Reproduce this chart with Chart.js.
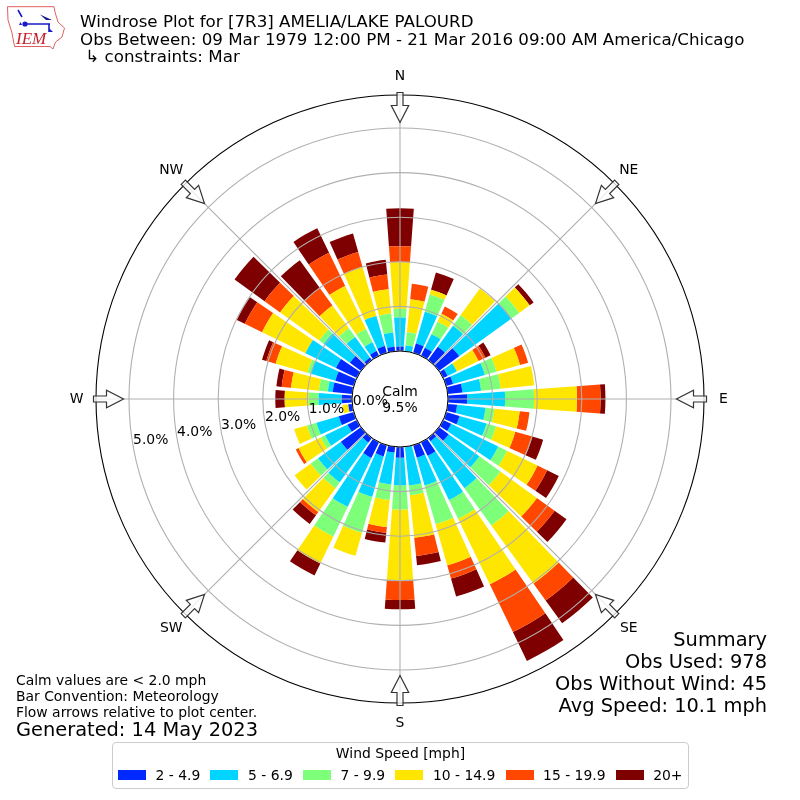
<!DOCTYPE html>
<html>
<head>
<meta charset="utf-8">
<title>Windrose Plot</title>
<script src="https://cdn.jsdelivr.net/npm/chart.js@4/dist/chart.umd.js"></script>
<style>
    html, body { margin: 0; padding: 0; background: #fff; }
    body { width: 800px; height: 800px; position: relative; overflow: hidden; font-family: "DejaVu Sans", sans-serif; color: #000; }
    canvas { position: absolute; left: 0; top: 0; }
    .txt { position: absolute; white-space: pre; line-height: 1; }
    #legendBox { position: absolute; left: 112px; top: 742px; width: 575px; height: 45px; border: 1px solid #ccc; border-radius: 4px; background: #fff; box-sizing: content-box; }
    #legendTitle { position: absolute; left: 0; right: 0; top: 3px; text-align: center; font-size: 13.9px; line-height: 15px; }
    #legendRow { position: absolute; left: 5px; top: 24px; display: flex; align-items: center; font-size: 13.9px; line-height: 16px; white-space: pre; }
    #legendRow i { display: inline-block; width: 28px; height: 10px; margin-right: 9.5px; }
    #legendRow span { margin-right: 10.2px; }
</style>
</head>
<body>
<canvas id="roseChart" width="800" height="800"></canvas>

<svg style="position:absolute;left:0;top:0" width="70" height="54" viewBox="0 0 70 54">
    <path d="M7.5 6.7 L54 6.7 L55 12 L58 22 L64.5 28 L62 37 L55.5 42 L53 49 L50 46.5 L14.5 46.5 L12 33 L8 20 Z" fill="none" stroke="#e06060" stroke-width="1"/>
    <path d="M25 24 L50 24 M49 24 L49 32 M18 10 L22 17" stroke="#1a1ac8" stroke-width="1.6" fill="none"/>
    <path d="M40 14.5 L52 20 L46 20 Z" fill="#1a1a90"/>
    <circle cx="25" cy="24" r="2.6" fill="#1a1ac8"/>
    <path d="M19 25 L22 25 L20.5 22 Z M49 28 L53 32 L49 32 Z" fill="#1a1ac8"/>
    <text x="16" y="44" font-family="Liberation Serif" font-style="italic" font-size="17" fill="#c8202a">IEM</text>
</svg>

<div class="txt" style="left:80px;top:12.5px;font-size:16.7px">Windrose Plot for [7R3] AMELIA/LAKE PALOURD</div>
<div class="txt" style="left:80px;top:30.5px;font-size:16.7px">Obs Between: 09 Mar 1979 12:00 PM - 21 Mar 2016 09:00 AM America/Chicago</div>
<div class="txt" style="left:80px;top:48px;font-size:16.7px"> ↳ constraints: Mar</div>

<div class="txt" style="right:33px;top:629.5px;font-size:19.4px">Summary</div>
<div class="txt" style="right:33px;top:652px;font-size:19.4px">Obs Used: 978</div>
<div class="txt" style="right:33px;top:674px;font-size:19.4px">Obs Without Wind: 45</div>
<div class="txt" style="right:33px;top:695.5px;font-size:19.4px">Avg Speed: 10.1 mph</div>

<div class="txt" style="left:16px;top:674px;font-size:13.9px">Calm values are &lt; 2.0 mph</div>
<div class="txt" style="left:16px;top:690px;font-size:13.9px">Bar Convention: Meteorology</div>
<div class="txt" style="left:16px;top:706px;font-size:13.9px">Flow arrows relative to plot center.</div>
<div class="txt" style="left:16px;top:720px;font-size:19.4px">Generated: 14 May 2023</div>

<div id="legendBox">
    <div id="legendTitle">Wind Speed [mph]</div>
    <div id="legendRow"></div>
</div>

<script>
// Direction of each bar, degrees clockwise from north
const directions = [0, 10, 20, 30, 40, 50, 60, 70, 80, 90, 100, 110, 120, 130, 140, 150, 160, 170,
    180, 190, 200, 210, 220, 230, 240, 250, 260, 270, 280, 290, 300, 310, 320, 330, 340, 350];

// Percent of observations per direction, one list per speed bin
const speed2to5 = [.10, 0, .22, .20, .37, .56, .11, .16, .33, .43, .21, .31, .20, .27, .09, .34, .29, 0,
    .24, .13, .26, .39, .13, .56, .23, .35, .09, .23, .44, .43, .52, .31, .07, .12, .16, .10];
const speed5to7 = [.65, .13, .74, .34, .58, 1.45, .23, .74, .42, .85, .64, .63, 1.17, .85, 1.30, 1.10, .65, .87,
    .62, .72, .94, 1.22, 1.10, .63, .56, .52, 0, .52, .11, .57, .76, .72, .57, .22, .70, .32];
const speed7to10 = [.20, .30, .40, .31, .29, .21, 0, .27, .44, .65, .20, .22, .22, .58, 1.03, .47, .90, .22,
    .54, .35, .84, .74, .16, .20, .11, .22, 0, .22, .20, .08, 0, .13, .24, .33, 0, .43];
const speed10to15 = [1.04, .74, .11, .20, .74, .29, .54, .55, .76, .96, .57, .45, .76, 1.01, 1.61, 1.63, .96, .96,
    1.60, .61, .54, .67, .66, .45, .55, .30, .13, .54, .63, .74, 1.08, 1.08, .63, 1.07, 1.14, .55];
const speed15to20 = [.36, .35, 0, .18, 0, 0, .17, .19, 0, .53, .22, .40, .24, .49, .47, 1.19, .31, .41,
    .43, .13, 0, 0, .09, 0, .07, 0, 0, 0, .21, .22, .43, .43, .49, .83, .35, .33];
const speed20up = [.85, 0, .40, 0, 0, .11, .13, 0, 0, .11, 0, .25, .29, .33, .63, .72, .42, .21,
    .21, .22, 0, .30, .24, 0, 0, 0, 0, .21, .12, .10, .20, .83, .76, .61, .43, .33];

const speedLabels = ['2 - 4.9', '5 - 6.9', '7 - 9.9', '10 - 14.9', '15 - 19.9', '20+'];
const speedColors = ['#0029ff', '#00d4ff', '#7dff7a', '#ffe600', '#ff4700', '#7f0000'];
const compassLabels = ['N', 'NE', 'E', 'SE', 'S', 'SW', 'W', 'NW'];
const tickValues = [0, 1, 2, 3, 4, 5];
const tickLabels = ['0.0%', '1.0%', '2.0%', '3.0%', '4.0%', '5.0%'];
const calmText = ['Calm', '9.5%'];

const rMin = -1.076;
const rMax = 5.74;
const barWidthDeg = 8.3;
const tickLabelDeg = 260;
const textFont = '13.9px "DejaVu Sans"';

// Polar area bars that stack outward instead of all starting at the center
class WindroseController extends Chart.PolarAreaController {
    updateElements(arcs, start, count, mode) {
        const scale = this._cachedMeta.rScale;
        const datasets = this.chart.data.datasets;
        const half = barWidthDeg / 2 * Math.PI / 180;

        for (let i = start; i < start + count; i++) {
            let base = 0;
            for (let d = 0; d < this.index; d++) {
                base += datasets[d].data[i];
            }
            const mid = directions[i] * Math.PI / 180 - Math.PI / 2;
            this.updateElement(arcs[i], i, {
                x: scale.xCenter,
                y: scale.yCenter,
                innerRadius: scale.getDistanceFromCenterForValue(base),
                outerRadius: scale.getDistanceFromCenterForValue(base + this.getParsed(i).r),
                startAngle: mid - half,
                endAngle: mid + half,
                options: this.resolveDataElementOptions(i, mode)
            }, mode);
        }
    }
}
WindroseController.id = 'windrose';
Chart.register(WindroseController);

function drawArrow(ctx, scale, index) {
    const p = scale.getPointPosition(index, 0);
    const angle = scale.getIndexAngle(index) - Math.PI / 2;
    ctx.save();
    ctx.translate(p.x, p.y);
    ctx.rotate(angle);
    ctx.beginPath();
    ctx.moveTo(306.5, -3);
    ctx.lineTo(293.5, -3);
    ctx.lineTo(293.5, -8.7);
    ctx.lineTo(276.5, 0);
    ctx.lineTo(293.5, 8.7);
    ctx.lineTo(293.5, 3);
    ctx.lineTo(306.5, 3);
    ctx.closePath();
    ctx.fillStyle = 'rgba(255,255,255,0.75)';
    ctx.fill();
    ctx.strokeStyle = '#333';
    ctx.lineWidth = 1.2;
    ctx.stroke();
    ctx.restore();
}

// Calm circle, compass labels, flow arrows and percent labels
const roseDecor = {
    id: 'roseDecor',
    afterDraw(chart) {
        const ctx = chart.ctx;
        const scale = chart.scales.r;
        const zero = scale.getDistanceFromCenterForValue(0);

        ctx.save();
        ctx.beginPath();
        ctx.arc(scale.xCenter, scale.yCenter, zero, 0, Math.PI * 2);
        ctx.fillStyle = '#fff';
        ctx.fill();
        ctx.strokeStyle = '#000';
        ctx.lineWidth = 1;
        ctx.stroke();

        ctx.font = textFont;
        ctx.fillStyle = '#000';
        ctx.textAlign = 'center';
        ctx.textBaseline = 'middle';
        ctx.fillText(calmText[0], scale.xCenter, scale.yCenter - 7);
        ctx.fillText(calmText[1], scale.xCenter, scale.yCenter + 9.5);

        compassLabels.forEach((label, i) => {
            drawArrow(ctx, scale, i);
            const p = scale.getPointPosition(i, scale.drawingArea + 19.5);
            ctx.fillStyle = '#000';
            ctx.fillText(label, p.x, p.y + 0.5);
        });

        ctx.textAlign = 'left';
        ctx.textBaseline = 'alphabetic';
        const a = tickLabelDeg * Math.PI / 180;
        tickValues.forEach((v, i) => {
            const d = scale.getDistanceFromCenterForValue(v);
            ctx.fillText(tickLabels[i], scale.xCenter + d * Math.sin(a), scale.yCenter - d * Math.cos(a) - 2);
        });
        ctx.restore();
    }
};

const speedSeries = [speed2to5, speed5to7, speed7to10, speed10to15, speed15to20, speed20up];

const roseChart = new Chart(document.getElementById('roseChart'), {
    type: 'windrose',
    data: {
        labels: compassLabels,
        datasets: speedSeries.map((values, i) => ({
            label: speedLabels[i],
            data: values,
            backgroundColor: speedColors[i],
            borderWidth: 0
        }))
    },
    options: {
        responsive: false,
        animation: false,
        layout: { padding: { left: 96, right: 96, top: 95, bottom: 96 } },
        plugins: { legend: { display: false }, tooltip: { enabled: false } },
        scales: {
            r: {
                type: 'radialLinear',
                min: rMin,
                max: rMax,
                startAngle: 0,
                ticks: { display: false },
                pointLabels: { display: false },
                angleLines: { display: true, color: '#b0b0b0', lineWidth: 1.1 },
                grid: {
                    circular: true,
                    z: 1,
                    lineWidth: 1.1,
                    color: ctx => (ctx.tick && ctx.tick.value === rMax ? '#000' : '#b0b0b0')
                },
                afterBuildTicks(scale) {
                    scale.ticks = tickValues.concat([rMax]).map(value => ({ value }));
                }
            }
        }
    },
    plugins: [roseDecor]
});

// Legend row
const legendRow = document.getElementById('legendRow');
legendRow.innerHTML = speedLabels.map((label, i) =>
    `<i style="background:${speedColors[i]}"></i><span>${label}</span>`).join('');
</script>
</body>
</html>
